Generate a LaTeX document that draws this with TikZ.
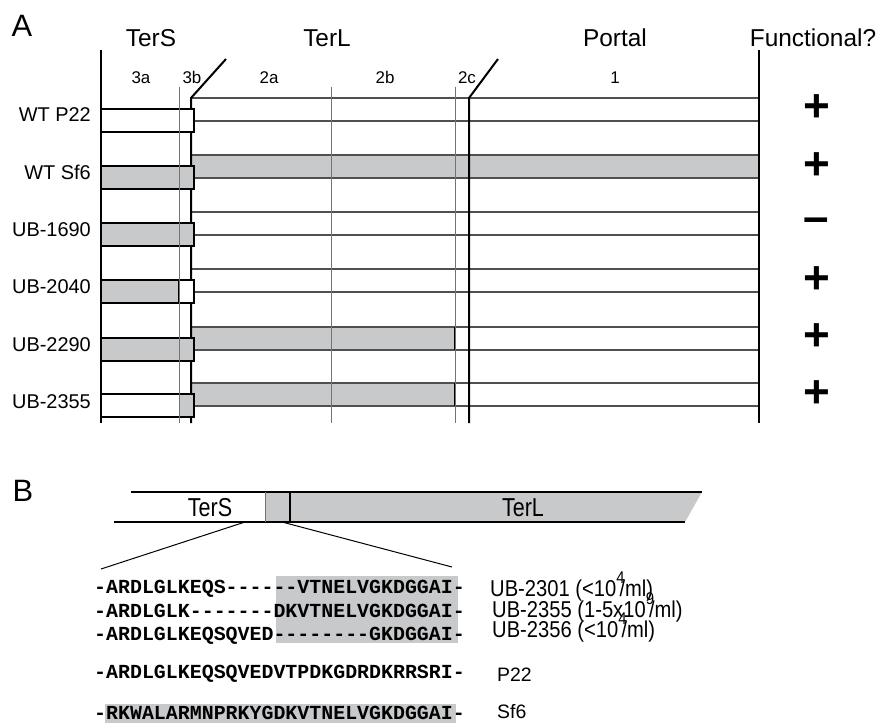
\documentclass[tikz,border=0pt]{standalone}
\usepackage{fontspec}
\setmainfont{Liberation Sans}
\newfontfamily\seqfont[Ligatures=TeXOff]{Liberation Mono}
\newfontfamily\ubfont[FakeStretch=0.88]{Liberation Sans}
\newfontfamily\barfont[FakeStretch=0.83]{Liberation Sans}
\newcommand\supr[1]{\raisebox{12.5bp}{\fontsize{17}{17}\selectfont #1}}
\definecolor{bargray}{RGB}{200,201,203}
\definecolor{linegray}{RGB}{80,80,80}
\definecolor{thingray}{RGB}{115,115,115}
\tikzset{
  heavyline/.style={line width=2bp, black},
  thinvline/.style={line width=1bp, thingray},
  bandline/.style={line width=1.3bp, linegray},
  tersbox/.style={line width=1.3bp, black},
  barline/.style={line width=1.7bp, black},
  zoomline/.style={line width=1bp, black},
  hdr/.style={font=\fontsize{24.5}{28}\selectfont, inner sep=0, anchor=base},
  collab/.style={font=\fontsize{17}{20}\selectfont, inner sep=0, anchor=base},
  rowlab/.style={font=\fontsize{20}{22}\selectfont, inner sep=0, anchor=base east},
  fun/.style={font=\bfseries\fontsize{46}{50}\selectfont, inner sep=0},
  panel/.style={font=\fontsize{31}{34}\selectfont, inner sep=0},
  seq/.style={font=\seqfont\bfseries\fontsize{20}{22}\selectfont, inner sep=0, anchor=base west},
  ublab/.style={font=\ubfont\fontsize{23}{26}\selectfont, inner sep=0, anchor=base west},
  strainlab/.style={font=\fontsize{19.5}{22}\selectfont, inner sep=0, anchor=base west},
  barlab/.style={font=\barfont\fontsize{26}{28}\selectfont, inner sep=0},
}
\begin{document}
\begin{tikzpicture}[x=1bp,y=-1bp]
\useasboundingbox (0,0) rectangle (886,723);

% ---------------- Panel A ----------------
\node[panel] (pA) at (22,26) {A};
\node[hdr] (hTerS) at (151,47) {TerS};
\node[hdr] (hTerL) at (327,47) {TerL};
\node[hdr] (hPortal) at (615,47) {Portal};
\node[hdr] (hFun) at (813,47) {Functional?};

\node[collab] (c3a) at (141,84) {3a};
\node[collab] (c3b) at (192,84) {3b};
\node[collab] (c2a) at (269,84) {2a};
\node[collab] (c2b) at (385,84) {2b};
\node[collab] (c2c) at (467,84) {2c};
\node[collab] (c1) at (615,84) {1};

% TerL / portal bands
\draw[bandline, fill=white] (191,98) rectangle (759,121);
\draw[bandline, fill=bargray] (191,155) rectangle (759,178);
\draw[bandline, fill=white] (191,212) rectangle (759,235);
\draw[bandline, fill=white] (191,269) rectangle (759,292);
\draw[bandline, fill=bargray] (191,327) rectangle (455,350);
\draw[bandline, fill=white] (455,327) rectangle (759,350);
\draw[bandline, fill=bargray] (191,383) rectangle (455,406);
\draw[bandline, fill=white] (455,383) rectangle (759,406);
\draw[tersbox] (455,327) -- (455,350);
\draw[tersbox] (455,383) -- (455,406);

% heavy verticals
\draw[heavyline] (101,50) -- (101,423);
\draw[heavyline] (759,50) -- (759,423);
\draw[heavyline] (226,59) -- (191,98) -- (191,423);
\draw[heavyline] (498,59) -- (469,98) -- (469,423);

% TerS boxes
\draw[tersbox, fill=white] (101,109) rectangle (194,132);
\draw[tersbox, fill=bargray] (101,166) rectangle (194,189);
\draw[tersbox, fill=bargray] (101,223) rectangle (194,246);
\fill[white] (101,280) rectangle (194,303);
\fill[bargray] (101,280) rectangle (179,303);
\draw[tersbox] (101,280) rectangle (194,303);
\draw[tersbox] (179,280) -- (179,303);
\draw[tersbox, fill=bargray] (101,338) rectangle (194,361);
\fill[white] (101,394) rectangle (179,417);
\fill[bargray] (179,394) rectangle (194,417);
\draw[tersbox] (101,394) rectangle (194,417);

% thin verticals
\draw[thinvline] (179,87) -- (179,423);
\draw[thinvline] (331,87) -- (331,423);
\draw[thinvline] (455,87) -- (455,423);

% row labels
\node[rowlab] (rP22) at (91,122) {WT P22};
\node[rowlab] (rSf6) at (91,179) {WT Sf6};
\node[rowlab] (r1690) at (91,236) {UB-1690};
\node[rowlab] (r2040) at (91,293) {UB-2040};
\node[rowlab] (r2290) at (91,351) {UB-2290};
\node[rowlab] (r2355) at (91,408) {UB-2355};

% functional
\node[fun] (fP22) at (817,108) {+};
\node[fun] (fSf6) at (817,166) {+};
\node[fun] (f1690) at (816,225) {–};
\node[fun] (f2040) at (817,280) {+};
\node[fun] (f2290) at (817,337) {+};
\node[fun] (f2355) at (817,394) {+};

% ---------------- Panel B ----------------
\node[panel] (pB) at (23,491) {B};
\fill[bargray] (265,492) -- (702,492) -- (685,522) -- (265,522) -- cycle;
\draw[barline] (131,492) -- (702,492);
\draw[barline] (114,522) -- (685,522);
\draw[thinvline] (265,492) -- (265,522);
\draw[heavyline] (290,492) -- (290,522);
\node[barlab] (bTerS) at (210,508) {TerS};
\node[barlab] (bTerL) at (523,508) {TerL};

\coordinate (zl1) at (245,522);
\coordinate (zl2) at (101,569);
\coordinate (zr1) at (282,522);
\coordinate (zr2) at (452,567);
\draw[zoomline] (zl1) -- (zl2);
\draw[zoomline] (zr1) -- (zr2);

% shaded sequence regions
\fill[bargray] (276,576) rectangle (458,643);
\fill[bargray] (105,704) rectangle (456,723);

\node[seq] (s1) at (94,593) {-ARDLGLKEQS------VTNELVGKDGGAI-};
\node[seq] (s2) at (94,617) {-ARDLGLK-------DKVTNELVGKDGGAI-};
\node[seq] (s3) at (94,640) {-ARDLGLKEQSQVED--------GKDGGAI-};
\node[seq] (s4) at (94,678) {-ARDLGLKEQSQVEDVTPDKGDRDKRRSRI-};
\node[seq] (s5) at (94,719) {-RKWALARMNPRKYGDKVTNELVGKDGGAI-};

\node[ublab] (u1) at (490,596) {UB-2301 (<10\supr{4}\kern-0.22em/ml)};
\node[ublab] (u2) at (492,617) {UB-2355 (1-5x10\supr{9}\kern-0.22em/ml)};
\node[ublab] (u3) at (492,637) {UB-2356 (<10\supr{4}\kern-0.22em/ml)};
\node[strainlab] (uP22) at (497,681) {P22};
\node[strainlab] (uSf6) at (497,718) {Sf6};
\end{tikzpicture}
\end{document}
